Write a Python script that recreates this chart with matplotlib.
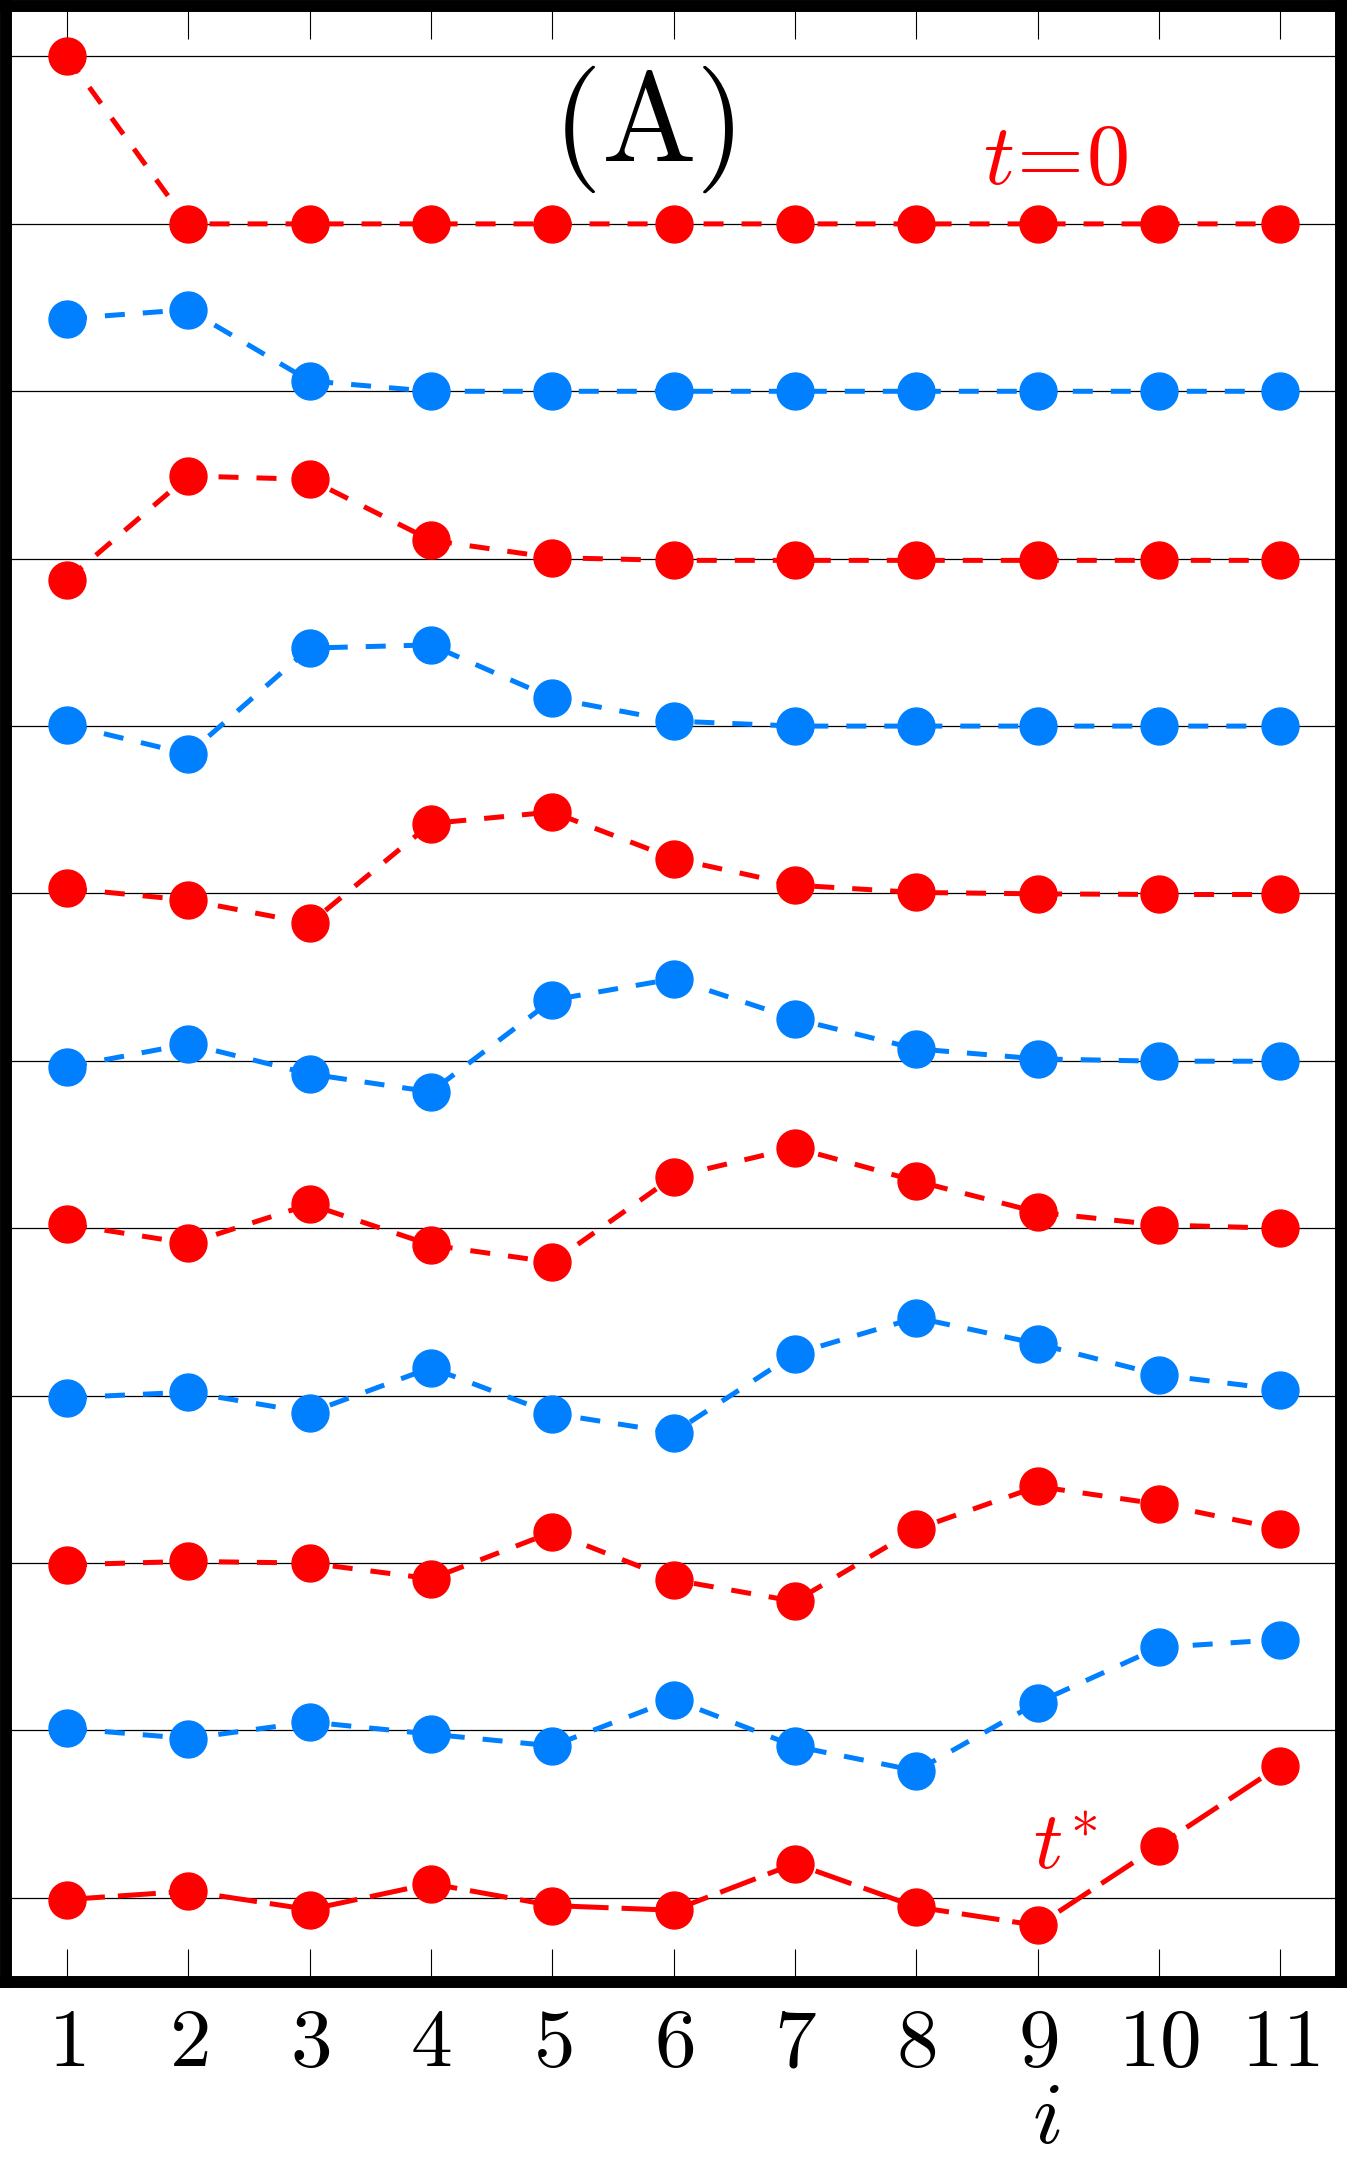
import matplotlib.pyplot as plt
import numpy as np

plt.rcParams['mathtext.fontset'] = 'cm'

RED = '#ff0000'
BLUE = '#0080ff'

sites = np.arange(1, 12)
site_labels = ['$%d$' % s for s in sites]

# displacement of every row from its own baseline (grid spacing = 1)
# rows run from t=0 at the top down to t* at the bottom
u0 = [1.00, 0.00, 0.00, 0.00, 0.00, 0.00, 0.00, 0.00, 0.00, 0.00, 0.00]
u1 = [0.434, 0.488, 0.062, 0.00, 0.00, 0.00, 0.00, 0.00, 0.00, 0.00, 0.00]
u2 = [-0.127, 0.494, 0.474, 0.110, 0.006, -0.01, -0.01, -0.01, -0.01, -0.01, -0.01]
u3 = [0.008, -0.167, 0.466, 0.485, 0.167, 0.030, 0.00, 0.00, 0.00, 0.00, 0.00]
u4 = [0.030, -0.040, -0.179, 0.418, 0.487, 0.209, 0.050, 0.006, -0.002, -0.006, -0.006]
u5 = [-0.036, 0.101, -0.078, -0.185, 0.364, 0.490, 0.251, 0.072, 0.012, -0.002, -0.002]
u6 = [0.024, -0.090, 0.143, -0.100, -0.203, 0.308, 0.481, 0.282, 0.096, 0.020, 0.00]
u7 = [-0.012, 0.021, -0.101, 0.167, -0.107, -0.221, 0.251, 0.466, 0.310, 0.125, 0.036]
u8 = [-0.010, 0.010, 0.00, -0.094, 0.185, -0.100, -0.229, 0.203, 0.458, 0.352, 0.203]
u9 = [0.012, -0.048, 0.051, -0.022, -0.092, 0.185, -0.094, -0.241, 0.167, 0.496, 0.543]
u10 = [-0.010, 0.040, -0.070, 0.085, -0.046, -0.074, 0.205, -0.054, -0.165, 0.312, 0.790]

rows = [u0, u1, u2, u3, u4, u5, u6, u7, u8, u9, u10]
row_colors = [RED, BLUE] * 5 + [RED]

fig = plt.figure(figsize=(13.47, 21.64), dpi=100)
ax = fig.add_axes([0.0047, 0.0843, 0.9908, 0.9128])

for k in range(12):
    ax.axhline(-k, color='black', lw=0.9, zorder=1)

for k, (u, c) in enumerate(zip(rows, row_colors)):
    y = -(k + 1) + np.array(u)
    if k == len(rows) - 1:
        dashes = (7.6, 2.6)
    else:
        dashes = (4.0, 3.6)
    ax.plot(sites, y, '--o', color=c, lw=3.6, dashes=dashes,
            ms=26.6, zorder=3)

ax.set_xlim(0.5, 11.5)
ax.set_ylim(-11.5, 0.3)

ax.set_xticks(sites)
ax.set_xticklabels(site_labels, fontsize=60)
ax.set_yticks([])
ax.tick_params(axis='x', direction='in', length=24, width=0.8,
               top=True, bottom=True, pad=15)

for side in ['left', 'right', 'top', 'bottom']:
    ax.spines[side].set_linewidth(8.6)

ax.text(5.75, -0.622, r'$\mathrm{(A)}$', fontsize=91, ha='center', va='baseline')
ax.text(9.146, -0.761, r'$t\!=\!0$', fontsize=62, color=RED, ha='center', va='baseline')
ax.text(8.96, -10.828, r'$t^{*}$', fontsize=59, color=RED, ha='left', va='baseline')

ax.text(9.07, -0.0912, r'$i$', fontsize=64, ha='center', va='bottom',
        transform=ax.get_xaxis_transform())

plt.savefig('out.png', dpi=100)
